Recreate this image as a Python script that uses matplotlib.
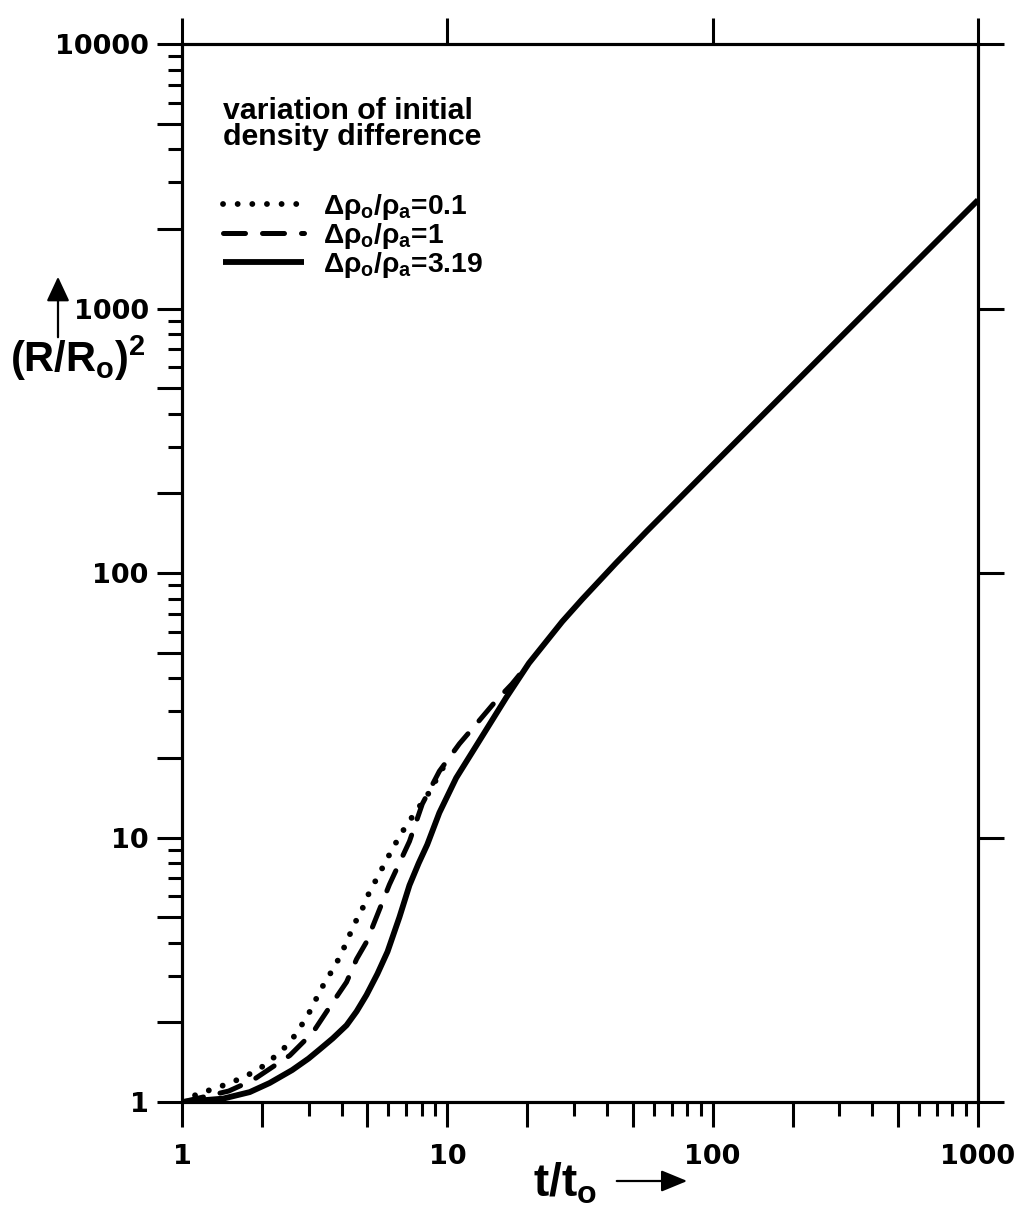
import numpy as np
import matplotlib
matplotlib.use("Agg")
import matplotlib.pyplot as plt
from matplotlib.patches import FancyArrowPatch
from matplotlib.ticker import LogLocator, FuncFormatter, NullLocator

plt.rcParams['font.family'] = ['Liberation Sans', 'DejaVu Sans']
plt.rcParams['font.weight'] = 'bold'
plt.rcParams['mathtext.fontset'] = 'custom'
plt.rcParams['mathtext.rm'] = 'Liberation Sans:bold'
plt.rcParams['mathtext.it'] = 'Liberation Sans:bold'
plt.rcParams['mathtext.bf'] = 'Liberation Sans:bold'

# curves (t/t0, (R/R0)^2)
t_solid = [1, 1.43, 1.8, 2.14, 2.6, 3.0, 3.3, 3.7, 4.17, 4.55, 4.96, 5.45, 5.95,
           6.6, 7.2, 7.8, 8.4, 9.33, 10.8, 13.2, 16.7, 20.3, 27.1, 32.2, 43.2,
           56.5, 100, 300, 1000]
r_solid = [1, 1.03, 1.09, 1.18, 1.32, 1.46, 1.58, 1.74, 1.95, 2.2, 2.54, 3.05, 3.7,
           5.0, 6.6, 8.0, 9.4, 12.4, 16.8, 23.2, 33.9, 45.6, 65.5, 79.5, 109,
           144, 256, 770, 2570]

t_dash = [1, 1.5, 1.85, 2.55, 3.11, 3.70, 4.17, 4.55, 4.96, 6.05, 7.2, 8.05,
          9.33, 11.1, 13.2, 15.3, 17.5, 20.3]
r_dash = [1, 1.1, 1.21, 1.50, 1.83, 2.38, 2.84, 3.47, 4.03, 6.64, 9.67, 13.4,
          17.8, 22.6, 27.7, 33, 38, 45.6]

t_dot = [1, 1.14, 1.31, 1.52, 1.73, 1.95, 2.16, 2.35, 2.52, 2.69, 2.93, 3.11,
         3.26, 3.48, 3.71, 3.97, 4.22, 4.47, 4.80, 5.12, 5.47, 5.85, 6.23,
         6.64, 7.09, 7.85, 8.43, 10.0]
r_dot = [1, 1.07, 1.12, 1.18, 1.25, 1.33, 1.44, 1.55, 1.66, 1.81, 2.07, 2.30,
         2.55, 2.87, 3.18, 3.60, 4.14, 4.72, 5.42, 6.32, 7.10, 8.10, 9.10,
         10.2, 11.3, 13.1, 14.5, 19.6]

labels = [r'$\Delta\rho_o/\rho_a$=0.1', r'$\Delta\rho_o/\rho_a$=1',
          r'$\Delta\rho_o/\rho_a$=3.19']
legend_title = 'variation of initial\ndensity difference'

fig = plt.figure(figsize=(10.16, 12.09), dpi=100)
ax = fig.add_axes([182 / 1016, 1 - 1102 / 1209, 796 / 1016, 1058 / 1209])

ax.plot(t_dot, r_dot, color='black', lw=4.2, linestyle=(0, (0.01, 2.5)),
        dash_capstyle='round', label=labels[0])
ax.plot(t_dash, r_dash, color='black', lw=3.6, linestyle=(0, (4.4, 3.4)),
        dash_capstyle='round', label=labels[1])
ax.plot(t_solid, r_solid, color='black', lw=4.2, solid_capstyle='butt',
        solid_joinstyle='round', label=labels[2])

ax.set_xscale('log')
ax.set_yscale('log')
ax.set_xlim(1, 1000)
ax.set_ylim(1, 10000)

decade_fmt = FuncFormatter(
    lambda v, p: f'{v:g}' if abs(np.log10(v) - round(np.log10(v))) < 1e-6 else '')
for axis in (ax.xaxis, ax.yaxis):
    axis.set_major_locator(LogLocator(base=10, subs=(1.0, 2.0, 5.0), numticks=50))
    axis.set_minor_locator(LogLocator(base=10, subs=(3.0, 4.0, 6.0, 7.0, 8.0, 9.0),
                                      numticks=50))
    axis.set_major_formatter(decade_fmt)

for s in ax.spines.values():
    s.set_linewidth(2.2)
ax.tick_params(which='major', direction='out', length=18, width=2.2, pad=6)
ax.tick_params(which='minor', direction='out', length=10, width=2.2)
ax.tick_params(axis='x', which='major', pad=12)
for lab in ax.get_xticklabels() + ax.get_yticklabels():
    lab.set_fontfamily('DejaVu Sans')
    lab.set_fontweight('bold')
    lab.set_fontsize(19.5)

# decade ticks on top and right
ax_top = ax.twiny()
ax_top.set_xscale('log')
ax_top.set_xlim(1, 1000)
ax_top.set_xticks([1, 10, 100, 1000])
ax_top.xaxis.set_minor_locator(NullLocator())
ax_top.tick_params(axis='x', direction='out', length=19, width=2.2, labeltop=False)
ax_right = ax.twinx()
ax_right.set_yscale('log')
ax_right.set_ylim(1, 10000)
ax_right.set_yticks([1, 10, 100, 1000, 10000])
ax_right.yaxis.set_minor_locator(NullLocator())
ax_right.tick_params(axis='y', direction='out', length=19, width=2.2, labelright=False)
for a in (ax_top, ax_right):
    for s in a.spines.values():
        s.set_linewidth(2.2)

leg = ax.legend(title=legend_title, loc='upper left', bbox_to_anchor=(0.052, 0.950),
                frameon=False, fontsize=20.3,
                title_fontproperties={'size': 21.8, 'weight': 'bold',
                                      'family': 'Liberation Sans'},
                alignment='left', handlelength=2.85, handletextpad=0.7,
                labelspacing=-0.05, borderpad=0, borderaxespad=0)
leg.get_title().set_linespacing(0.9)
leg._legend_box.sep = 30

# axis labels with arrows
fig.text(10 / 1016, 1 - 372 / 1209, r'$(R/R_o)^2$', fontsize=30, ha='left', va='baseline')
fig.add_artist(FancyArrowPatch(
    (58 / 1016, 1 - 340 / 1209), (58 / 1016, 1 - 274 / 1209), transform=fig.transFigure,
    arrowstyle='-|>,head_length=0.75,head_width=0.35', mutation_scale=20, lw=1.6,
    color='black'))
fig.text(533 / 1016, 1 - 1197 / 1209, r'$t/t_o$', fontsize=33, ha='left', va='baseline')
fig.add_artist(FancyArrowPatch(
    (614 / 1016, 1 - 1181 / 1209), (690 / 1016, 1 - 1181 / 1209), transform=fig.transFigure,
    arrowstyle='-|>,head_length=0.8,head_width=0.33', mutation_scale=20, lw=1.6,
    color='black'))

fig.savefig('out.png', dpi=100)
